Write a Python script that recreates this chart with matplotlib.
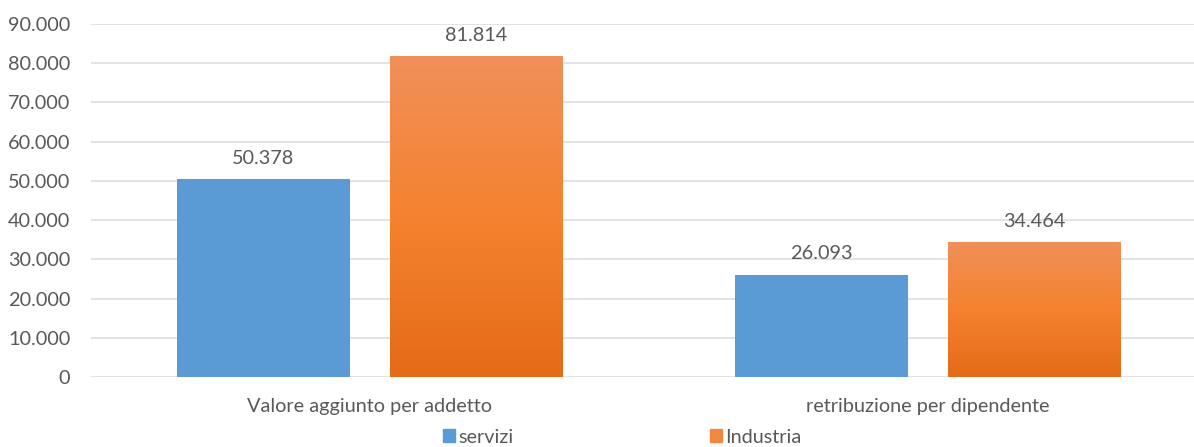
import numpy as np
import matplotlib.pyplot as plt
from matplotlib.colors import LinearSegmentedColormap
from matplotlib.patches import Rectangle

plt.rcParams['font.family'] = ['Lato', 'DejaVu Sans']

categorie = ["Valore aggiunto per addetto", "retribuzione per dipendente"]
servizi = [50378, 26093]
industria = [81814, 34464]
serie = ["servizi", "Industria"]
yticks = [0, 10000, 20000, 30000, 40000, 50000, 60000, 70000, 80000, 90000]

def fmt(v):
    return f"{v:,.0f}".replace(",", ".")

testo = "#595959"
blu = "#5B9BD5"
arancio = LinearSegmentedColormap.from_list("arancio", ["#E46B17", "#F5822F", "#F0905A"])
fs = 14.3

fig = plt.figure(figsize=(11.94, 4.47), dpi=100)
ax = fig.add_axes([91 / 1194, 70 / 447, (1194 - 91) / 1194, 353 / 447])

x = np.arange(len(categorie))
w = 0.31
off = 0.191

ax.bar(x - off, servizi, w, color=blu, zorder=3, label=serie[0])
bars = ax.bar(x + off, industria, w, color="none", zorder=3, label=serie[1])

# gradiente arancione come in Excel
grad = np.linspace(0, 1, 256).reshape(-1, 1)
for b in bars:
    x0, y0 = b.get_x(), b.get_y()
    bw, bh = b.get_width(), b.get_height()
    im = ax.imshow(grad, cmap=arancio, origin="lower", aspect="auto",
                   extent=[x0, x0 + bw, y0, y0 + bh], zorder=3)
    im.set_clip_path(Rectangle((x0, y0), bw, bh, transform=ax.transData))

for xi, v in zip(x - off, servizi):
    ax.text(xi, v + 3100, fmt(v), ha="center", va="bottom", fontsize=fs, color=testo)
for xi, v in zip(x + off, industria):
    ax.text(xi, v + 3100, fmt(v), ha="center", va="bottom", fontsize=fs, color=testo)

ax.set_xlim(-0.5, 1.477)
ax.set_ylim(0, 90000)
ax.set_yticks(yticks)
ax.set_yticklabels([fmt(t) for t in yticks])
ax.set_xticks(x)
ax.set_xticklabels(categorie)
ax.tick_params(axis="both", length=0, labelsize=fs, colors=testo)
ax.tick_params(axis="y", pad=15)
ax.tick_params(axis="x", pad=15)
ax.grid(axis="y", color="#DDE1E6", linewidth=1.3, zorder=0)
for s in ax.spines.values():
    s.set_visible(False)

h1 = Rectangle((0, 0), 1, 1, color=blu)
h2 = Rectangle((0, 0), 1, 1, color="#F2873F")
fig.legend([h1, h2], serie, loc="center", bbox_to_anchor=(0.521, 0.022), ncol=2,
           frameon=False, fontsize=fs, labelcolor=testo, handlelength=0.6,
           handleheight=0.6, handletextpad=0.15, columnspacing=9.9)

fig.savefig("out.png", dpi=100)
